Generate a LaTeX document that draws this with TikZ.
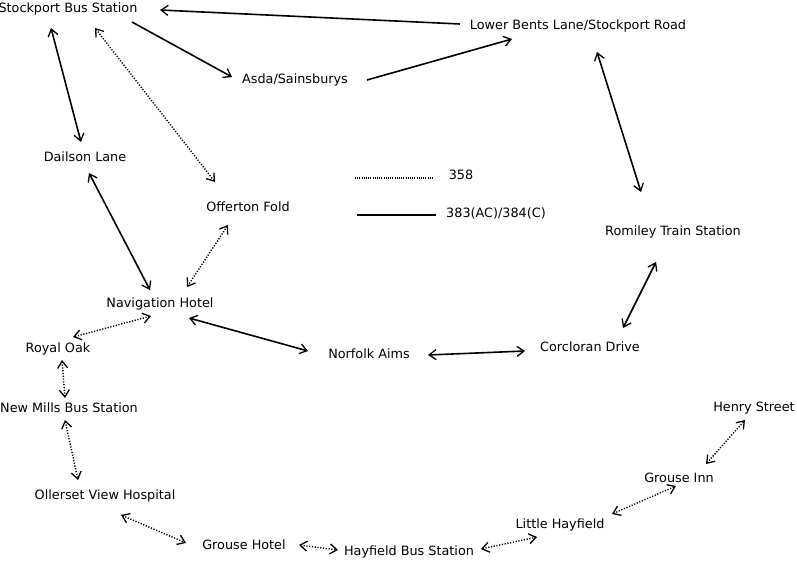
\documentclass[tikz,border=0pt]{standalone}
\usepackage{fontspec}
\setmainfont{DejaVu Sans}
\usetikzlibrary{arrows.meta}
\begin{document}
\begin{tikzpicture}[x=1pt,y=-1pt,
  myb/.tip={Straight Barb[length=7pt,width=10pt,line width=1.3pt]},
  stop/.style={inner sep=0pt, anchor=center, text height=9.2pt, text depth=0pt, font=\fontsize{12.8}{14}\selectfont},
  solidline/.style={line width=1.6pt},
  dotline/.style={line width=1.4pt, dash pattern=on 1.2pt off 1.6pt},
  both/.style={{myb}-{myb}},
  one/.style={-{myb}}]
\useasboundingbox (0,0) rectangle (797,560);
% stops
\node[stop] (sbs) at (68,8) {Stockport Bus Station};
\node[stop] (lb) at (578,25) {Lower Bents Lane/Stockport Road};
\node[stop] (asda) at (295,79) {Asda/Sainsburys};
\node[stop] (dl) at (85,157) {Dailson Lane};
\node[stop] (of) at (248,207) {Offerton Fold};
\node[stop] (rts) at (673,231) {Romiley Train Station};
\node[stop] (nh) at (160,303) {Navigation Hotel};
\node[stop] (ro) at (58,348) {Royal Oak};
\node[stop] (na) at (369,354) {Norfolk Aims};
\node[stop] (cd) at (590,347) {Corcloran Drive};
\node[stop] (nm) at (69,408) {New Mills Bus Station};
\node[stop] (hs) at (754,407) {Henry Street};
\node[stop] (gi) at (679,478) {Grouse Inn};
\node[stop] (ovh) at (105,495) {Ollerset View Hospital};
\node[stop] (lh) at (560,524) {Little Hayfield};
\node[stop] (gh) at (244,545) {Grouse Hotel};
\node[stop] (hbs) at (409,551) {Hayfield Bus Station};
% legend
\node[stop] (l358) at (461,175) {358};
\node[stop] (l383) at (496,213) {383(AC)/384(C)};
\coordinate (d1) at (355,178);
\coordinate (d2) at (434,178);
\coordinate (s1) at (357,215);
\coordinate (s2) at (436,215);
\draw[line width=1.3pt, dash pattern=on 1pt off 1.2pt] (d1) -- (d2);
\draw[solidline] (s1) -- (s2);
% solid connectors
\draw[solidline,one] ([shift={(-118,-1)}]lb.center) -- ([shift={(92,2)}]sbs.center);
\draw[solidline,one] ([shift={(64,14)}]sbs.center) -- ([shift={(-63,-2)}]asda.center);
\draw[solidline,one] ([shift={(72,1)}]asda.center) -- ([shift={(-66,14)}]lb.center);
\draw[solidline,both] ([shift={(-17,20)}]sbs.center) -- ([shift={(-4,-15)}]dl.center);
\draw[solidline,both] ([shift={(19,27)}]lb.center) -- ([shift={(-32,-39)}]rts.center);
\draw[solidline,both] ([shift={(4,16)}]dl.center) -- ([shift={(-10,-13)}]nh.center);
\draw[solidline,both] ([shift={(-17,31)}]rts.center) -- ([shift={(33,-19)}]cd.center);
\draw[solidline,both] ([shift={(29,15)}]nh.center) -- ([shift={(-61,-3)}]na.center);
\draw[solidline,both] ([shift={(59,1)}]na.center) -- ([shift={(-65,4)}]cd.center);
% dotted connectors
\draw[dotline,both] ([shift={(27,20)}]sbs.center) -- ([shift={(-33,-25)}]of.center);
\draw[dotline,both] ([shift={(-20,18)}]of.center) -- ([shift={(27,-16)}]nh.center);
\draw[dotline,both] ([shift={(-9,13)}]nh.center) -- ([shift={(15,-11)}]ro.center);
\draw[dotline,both] ([shift={(4,12)}]ro.center) -- ([shift={(-4,-10)}]nm.center);
\draw[dotline,both] ([shift={(-4,12)}]nm.center) -- ([shift={(-27,-15)}]ovh.center);
\draw[dotline,both] ([shift={(16,20)}]ovh.center) -- ([shift={(-58,-2)}]gh.center);
\draw[dotline,both] ([shift={(55,0)}]gh.center) -- ([shift={(-71,-1)}]hbs.center);
\draw[dotline,both] ([shift={(72,-2)}]hbs.center) -- ([shift={(-23,13)}]lh.center);
\draw[dotline,both] ([shift={(52,-10)}]lh.center) -- ([shift={(-3,8)}]gi.center);
\draw[dotline,both] ([shift={(27,-14)}]gi.center) -- ([shift={(-9,13)}]hs.center);
\end{tikzpicture}
\end{document}
